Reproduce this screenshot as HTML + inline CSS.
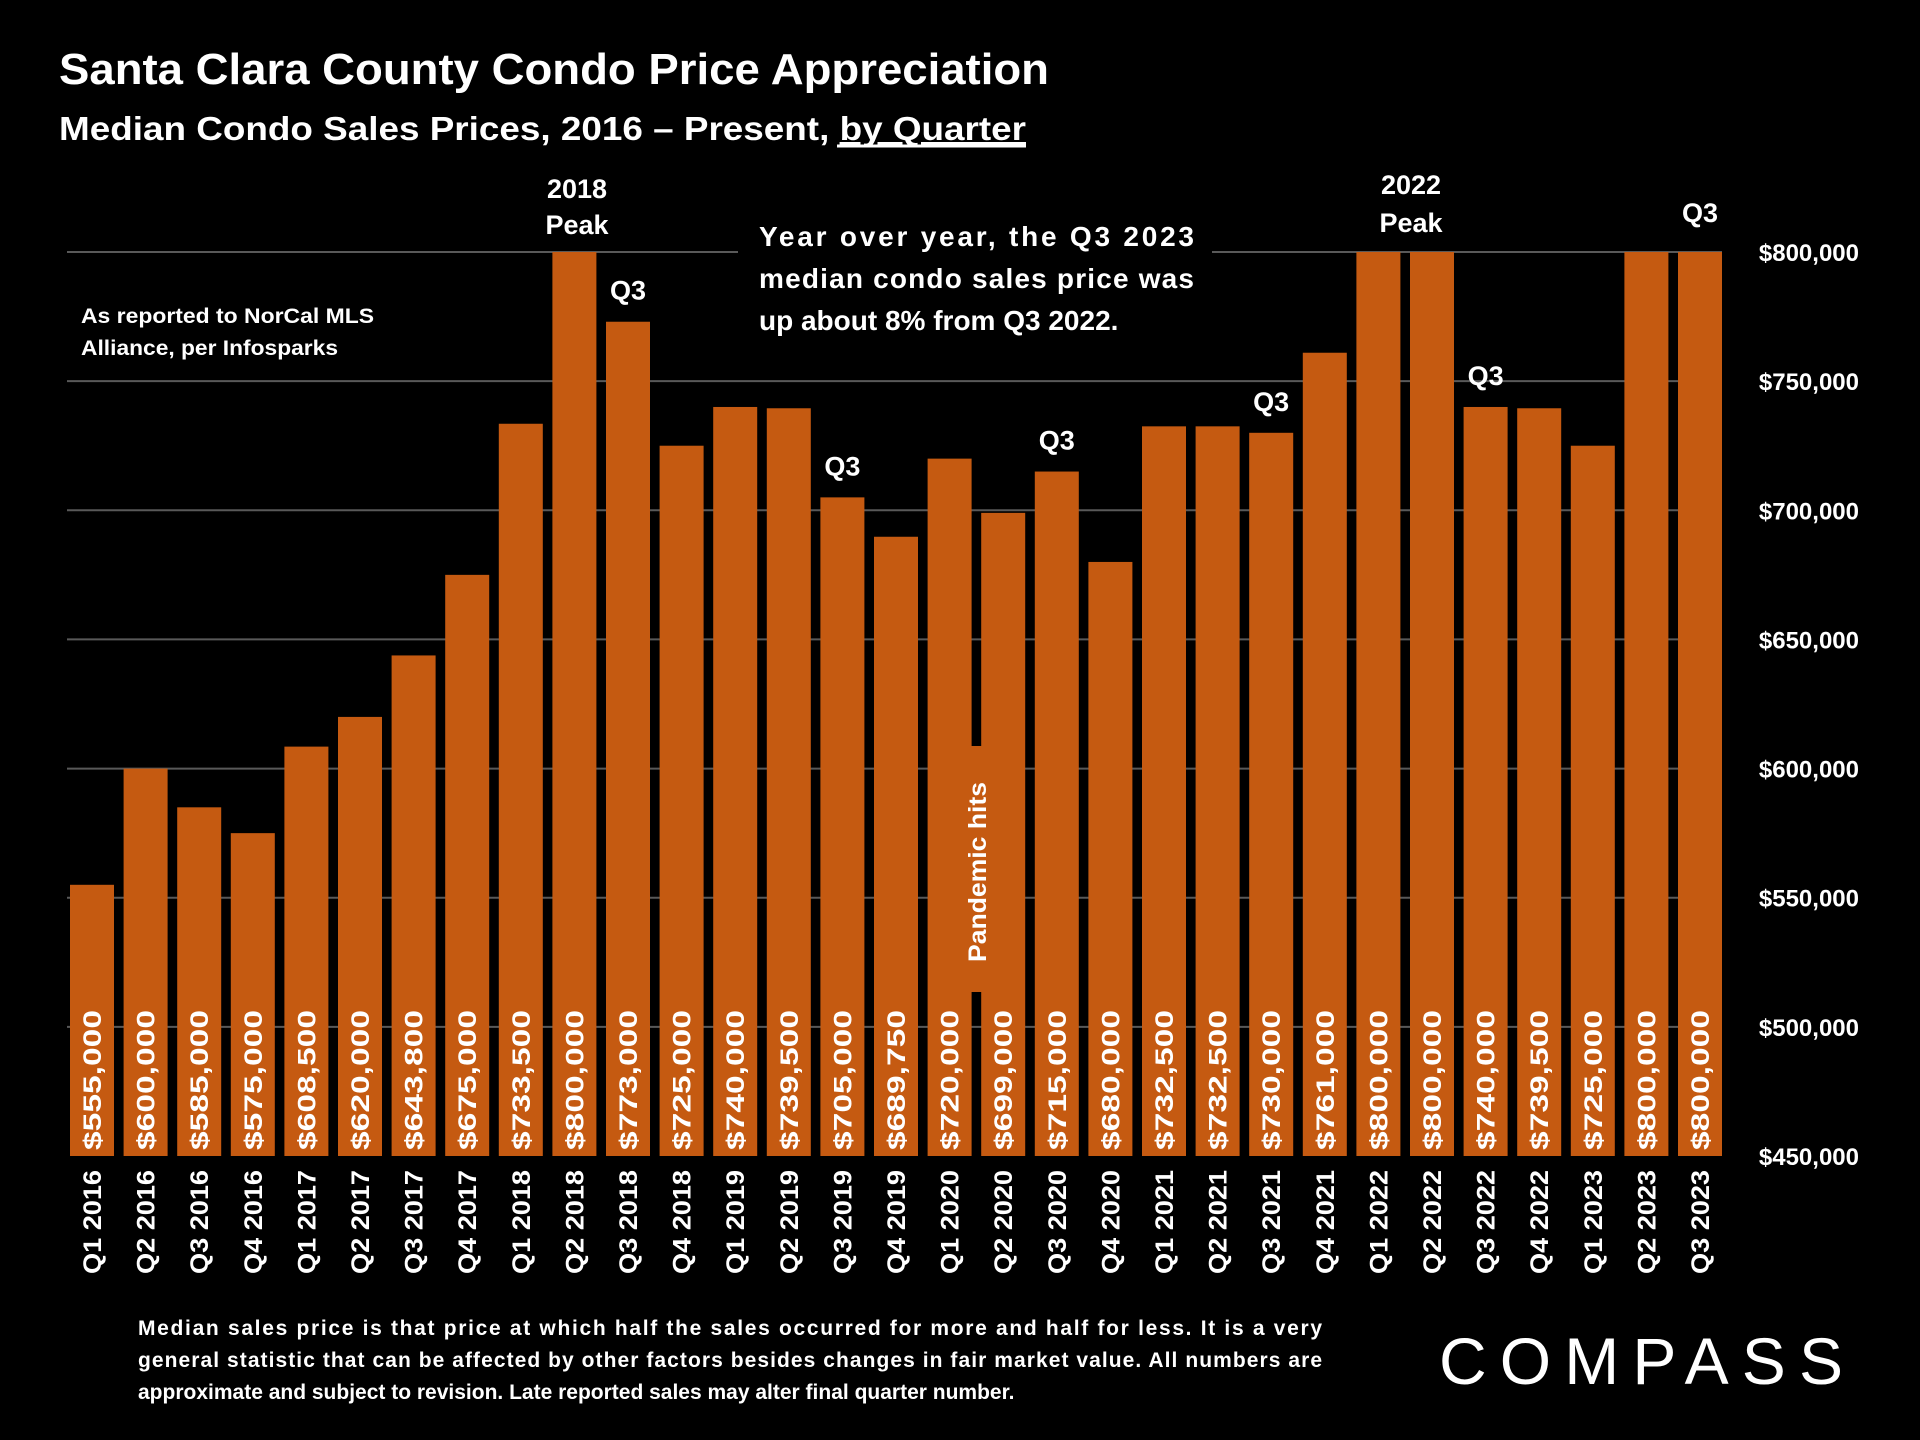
<!DOCTYPE html>
<html><head><meta charset="utf-8"><style>
html,body{margin:0;padding:0;background:#000;}
svg{display:block;font-family:"Liberation Sans",sans-serif;}
</style></head><body>
<svg id="chart" width="1920" height="1440" viewBox="0 0 1920 1440" xmlns="http://www.w3.org/2000/svg">
<rect width="1920" height="1440" fill="#000"/>
<text x="59" y="84" fill="#fff" font-size="44" font-weight="bold" textLength="990" lengthAdjust="spacingAndGlyphs">Santa Clara County Condo Price Appreciation</text>
<text x="59" y="140" fill="#fff" font-size="33" font-weight="bold" textLength="967" lengthAdjust="spacingAndGlyphs">Median Condo Sales Prices, 2016 – Present, <tspan text-decoration="underline">by Quarter</tspan></text>
<line x1="837" y1="146" x2="1026" y2="146" stroke="#fff" stroke-width="3"/>
<g id="grid"></g>
<rect x="738" y="228" width="474" height="118" fill="#000"/>
<g id="bars"></g>
<g id="labels"></g>
<text x="81" y="323" fill="#fff" font-size="21" font-weight="bold" textLength="293" lengthAdjust="spacingAndGlyphs">As reported to NorCal MLS</text>
<text x="81" y="355" fill="#fff" font-size="21" font-weight="bold" textLength="257" lengthAdjust="spacingAndGlyphs">Alliance, per Infosparks</text>
<text fill="#fff" font-size="28" font-weight="bold">
<tspan x="759" y="246" textLength="435" lengthAdjust="spacing">Year over year, the Q3 2023</tspan>
<tspan x="759" y="288" textLength="435" lengthAdjust="spacing">median condo sales price was</tspan>
<tspan x="759" y="330">up about 8% from Q3 2022.</tspan>
</text>
<g>
<rect x="955" y="746" width="44" height="246" fill="#C55A11"/>
<text transform="translate(986,962) rotate(-90)" fill="#fff" font-size="25" font-weight="bold" textLength="180" lengthAdjust="spacingAndGlyphs">Pandemic hits</text>
</g>
<g id="annots" font-weight="bold" fill="#fff" font-size="27" text-anchor="middle">
<text x="577" y="198">2018</text>
<text x="577" y="234">Peak</text>
<text x="1411" y="194">2022</text>
<text x="1411" y="232">Peak</text>
</g>
<text fill="#fff" font-size="21" font-weight="bold">
<tspan x="138" y="1335" textLength="1184" lengthAdjust="spacing">Median sales price is that price at which half the sales occurred for more and half for less. It is a very</tspan>
<tspan x="138" y="1367" textLength="1184" lengthAdjust="spacing">general statistic that can be affected by other factors besides changes in fair market value. All numbers are</tspan>
<tspan x="138" y="1399">approximate and subject to revision. Late reported sales may alter final quarter number.</tspan>
</text>
<text x="1439" y="1384" fill="#fff" font-size="66" textLength="404" lengthAdjust="spacing">COMPASS</text>
</svg>
<script>
const categories = ["Q1 2016","Q2 2016","Q3 2016","Q4 2016","Q1 2017","Q2 2017","Q3 2017","Q4 2017","Q1 2018","Q2 2018","Q3 2018","Q4 2018","Q1 2019","Q2 2019","Q3 2019","Q4 2019","Q1 2020","Q2 2020","Q3 2020","Q4 2020","Q1 2021","Q2 2021","Q3 2021","Q4 2021","Q1 2022","Q2 2022","Q3 2022","Q4 2022","Q1 2023","Q2 2023","Q3 2023"];
const values = [555000,600000,585000,575000,608500,620000,643800,675000,733500,800000,773000,725000,740000,739500,705000,689750,720000,699000,715000,680000,732500,732500,730000,761000,800000,800000,740000,739500,725000,800000,800000];
const valueLabels = ["$555,000","$600,000","$585,000","$575,000","$608,500","$620,000","$643,800","$675,000","$733,500","$800,000","$773,000","$725,000","$740,000","$739,500","$705,000","$689,750","$720,000","$699,000","$715,000","$680,000","$732,500","$732,500","$730,000","$761,000","$800,000","$800,000","$740,000","$739,500","$725,000","$800,000","$800,000"];
const ticks = [450000,500000,550000,600000,650000,700000,750000,800000];
const tickLabels = ["$450,000","$500,000","$550,000","$600,000","$650,000","$700,000","$750,000","$800,000"];
const q3Indices = [10,14,18,22,26,30];

const NS="http://www.w3.org/2000/svg";
const yMin=450000,yMax=800000,yTop=252,yBot=1156;
function y(v){return yBot-(v-yMin)/(yMax-yMin)*(yBot-yTop);}
const x0=70,step=53.6,bw=44;
function xl(i){return x0+i*step;}
function mk(t,a,parent){const e=document.createElementNS(NS,t);for(const k in a)e.setAttribute(k,a[k]);parent.appendChild(e);return e;}
const grid=document.getElementById('grid'),bars=document.getElementById('bars'),labels=document.getElementById('labels');
ticks.forEach((t,k)=>{
  if(k>0){const l=mk('line',{x1:67,x2:1722,y1:y(t),y2:y(t),stroke:'#595959','stroke-width':2},grid);
  
  }
  const tx=mk('text',{x:1859,y:y(t)+9,fill:'#fff','font-size':24,'font-weight':'bold','text-anchor':'end'},labels);
  tx.textContent=tickLabels[k];
  
  
});
values.forEach((v,i)=>{
  const r=mk('rect',{x:xl(i),y:y(v),width:bw,height:yBot-y(v),fill:'#C55A11'},bars);
  
  
  const cx=xl(i)+bw/2;
  const vt=mk('text',{transform:`translate(${cx+9},1150) rotate(-90)`,fill:'#fff','font-size':25,'font-weight':'bold',textLength:140,lengthAdjust:'spacingAndGlyphs'},labels);
  vt.textContent=valueLabels[i];
  
  
  const ct=mk('text',{transform:`translate(${cx+9},1170) rotate(-90)`,fill:'#fff','font-size':25,'font-weight':'bold','text-anchor':'end',textLength:104,lengthAdjust:'spacingAndGlyphs'},labels);
  ct.textContent=categories[i];
  
  
});
const annots=document.getElementById('annots');
q3Indices.forEach(i=>{
  const t=mk('text',{x:xl(i)+bw/2,y:y(values[i])-(values[i]>=800000?30:22)},annots);
  t.textContent='Q3';
  
  
});
</script>
</body></html>
